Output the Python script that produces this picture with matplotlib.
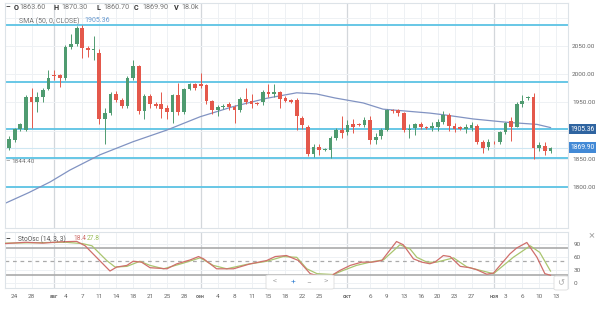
import numpy as np
import pandas as pd
import matplotlib
matplotlib.use('Agg')
import matplotlib.pyplot as plt
from matplotlib.patches import FancyBboxPatch

plt.rcParams['font.family'] = ['Roboto', 'DejaVu Sans']

# ---------------- data ----------------
all_days = pd.date_range('2020-07-23', '2020-11-13')
days = all_days[all_days.dayofweek != 5]          # daily bars incl. Sunday session

opens = [1870, 1883, 1902, 1901, 1960, 1950, 1960, 1974, 1999, 1998,
         1993, 2049, 2053, 2082, 2047, 2043, 2038, 1920, 1932, 1965,
         1955, 1944, 1994, 2014, 1934, 1962, 1948, 1947, 1940, 1933,
         1963, 1933, 1974, 1982, 1982, 1981, 1952, 1936, 1941, 1947,
         1942, 1937, 1956, 1952, 1949, 1950, 1968, 1964, 1969, 1957,
         1954, 1954, 1922, 1907, 1858, 1871, 1865, 1866, 1887, 1901,
         1897, 1911, 1912, 1910, 1919, 1884, 1891, 1901, 1936, 1936,
         1931, 1901, 1904, 1911, 1906, 1905, 1907, 1915, 1928, 1909,
         1907, 1903, 1905, 1909, 1880, 1871, 1880, 1879, 1897, 1917,
         1907, 1947, 1957, 1960, 1870, 1873, 1863.6]
highs = [1890, 1905, 1913, 1963, 1976, 1969, 1975, 2007, 2007, 2001,
         2051, 2071, 2085, 2087, 2050, 2068, 2045, 1940, 1968, 1970,
         1957, 1996, 2026, 2016, 1965, 1965, 1950, 1968, 1945, 1965,
         1984, 1976, 1984, 1985, 2002, 1983, 1955, 1946, 1947, 1950,
         1945, 1960, 1976, 1964, 1951, 1972, 1982, 1983, 1971, 1962,
         1956, 1957, 1925, 1910, 1877, 1876, 1869, 1890, 1905, 1925,
         1918, 1920, 1914, 1924, 1925, 1896, 1904, 1938, 1938, 1938,
         1933, 1912, 1914, 1916, 1908, 1916, 1921, 1934, 1932, 1914,
         1909, 1912, 1915, 1912, 1883, 1885, 1882, 1899, 1915, 1924,
         1950, 1963, 1962, 1966, 1880, 1880, 1870.3]
lows = [1865, 1880, 1900, 1899, 1904, 1933, 1951, 1972, 1990, 1978,
        1990, 2045, 2050, 2028, 2030, 2025, 1911, 1877, 1928, 1950,
        1940, 1940, 1990, 1930, 1920, 1940, 1940, 1923, 1920, 1913,
        1927, 1930, 1972, 1972, 1975, 1948, 1930, 1925, 1938, 1937,
        1913, 1933, 1948, 1940, 1945, 1945, 1960, 1960, 1940, 1950,
        1949, 1901, 1903, 1855, 1853, 1856, 1863, 1852, 1884, 1886,
        1893, 1895, 1908, 1906, 1877, 1876, 1885, 1899, 1932, 1925,
        1897, 1887, 1893, 1903, 1903, 1900, 1900, 1912, 1899, 1898,
        1901, 1896, 1900, 1876, 1861, 1866, 1877, 1876, 1894, 1882,
        1906, 1942, 1955, 1850, 1864, 1856, 1860.7]
closes = [1885, 1902, 1911, 1960, 1950, 1960, 1972, 1993, 1997, 1994,
          2049, 2053, 2082, 2047, 2042, 2045, 1920, 1932, 1965, 1955,
          1944, 1994, 2014, 1934, 1962, 1948, 1944, 1938, 1933, 1963,
          1933, 1974, 1982, 1976, 1979, 1952, 1937, 1941, 1944, 1942,
          1937, 1956, 1951, 1948, 1947, 1968, 1964, 1968, 1956, 1953,
          1951, 1925, 1910, 1858, 1871, 1866, 1867, 1887, 1901, 1895,
          1910, 1907, 1910, 1919, 1883, 1889, 1901, 1936, 1934, 1931,
          1901, 1903, 1911, 1906, 1905, 1908, 1915, 1928, 1909, 1903,
          1903, 1907, 1910, 1880, 1870, 1879, 1879, 1897, 1913, 1907,
          1947, 1953, 1960, 1870, 1875, 1863, 1869.9]

sma_x = [-0.7, 3.5, 7.3, 10.8, 16.1, 22, 28, 33.9, 39.7, 45.7, 51, 54.5,
         57.8, 62.8, 66.3, 69.9, 74.6, 77.3, 82.3, 88.3, 93.6, 96]
sma_v = [1771, 1790, 1809, 1830, 1857, 1880.3, 1901, 1924.6, 1942.4,
         1957.3, 1967, 1965, 1957.8, 1949, 1938, 1935, 1931, 1927.7,
         1920.6, 1914.7, 1911, 1905.36]

k_x = [-0.7, 3, 6, 9, 12, 13.5, 15.5, 17.9, 19.1, 20.9, 22, 23.5, 25, 28, 29.7,
       32.1, 33.6, 34.5, 36.8, 39.8, 42.7, 45.7, 47.2, 49.2, 51.3, 53.4,
       54.8, 57.2, 58.7, 60.5, 62.5, 64.3, 66.1, 68.7, 69.9, 71.7, 73.2,
       74.6, 75.5, 77, 78.2, 80, 81.7, 82.9, 84.7, 85.9, 88.8, 90, 91.8,
       93.6, 95, 96]
k_v = [90, 93, 91, 94, 95, 85, 59, 28, 37, 40.7, 50, 48, 35.5, 33, 44,
       53, 60.7, 55.5, 33, 33, 44, 51.8, 60.7, 63, 51.8, 22,
       17, 18, 29.6, 40.7, 48, 48, 51.8, 94.7, 87.3, 55.5, 48,
       44.4, 48, 63, 60.7, 38.5, 35.5, 31, 20.7, 23.5, 66.7, 80, 92.5,
       59, 22, 18.4]
d_x = [-0.7, 5, 10, 13, 14.7, 17.3, 18.8, 20.9, 23.2, 25, 27.4, 30.9, 33.9,
       36.2, 38.6, 42.1, 45.7, 48.6, 51, 52.8, 54.6, 57.5, 59.3, 61.6,
       64, 66.4, 69.3, 71.1, 72.3, 74.1, 75.8, 78.8, 81.2, 83.5, 85.9,
       89.4, 92.4, 94.1, 96]
d_v = [91, 92, 93, 90, 85, 52, 37, 38.5, 50, 40.7, 33, 45.8, 57.8,
       40.7, 33, 42.9, 50, 60.7, 59, 33, 22, 20, 29.6, 40.7,
       48, 53.3, 87.3, 77.8, 59, 48, 48, 57.8, 37, 29.6, 22,
       59, 85, 70, 27.8]

levels = [2087, 1986.5, 1902.5, 1852, 1800]
price_ticks = [1800, 1850, 1950, 2000, 2050]
last_close = 1869.90
sma_last = 1905.36
min_label = 1844.40

tick_dates = ['2020-07-24', '2020-07-28', '2020-08-02', '2020-08-04', '2020-08-07',
              '2020-08-11', '2020-08-14', '2020-08-18', '2020-08-21', '2020-08-25',
              '2020-08-28', '2020-09-01', '2020-09-04', '2020-09-08', '2020-09-11',
              '2020-09-15', '2020-09-18', '2020-09-22', '2020-09-25', '2020-10-01',
              '2020-10-06', '2020-10-09', '2020-10-13', '2020-10-16', '2020-10-20',
              '2020-10-23', '2020-10-27', '2020-11-01', '2020-11-03', '2020-11-06',
              '2020-11-10', '2020-11-13']
tick_labels = ['24', '28', 'авг', '4', '7', '11', '14', '18', '21', '25', '28',
               'сен', '4', '8', '11', '15', '18', '22', '25', 'окт', '6', '9',
               '13', '16', '20', '23', '27', 'ноя', '3', '6', '10', '13']
month_labels = {'авг', 'сен', 'окт', 'ноя'}
stoch_ticks = [0, 30, 60, 90]

# ---------------- figure ----------------
W, H = 600, 309
fig = plt.figure(figsize=(6.0, 3.09), dpi=100)
fig.patch.set_facecolor('white')

def px(x0, y0, x1, y1):
    return [x0 / W, 1 - y1 / H, (x1 - x0) / W, (y1 - y0) / H]

ax = fig.add_axes(px(5, 3, 568, 228))
ax2 = fig.add_axes(px(5, 232, 568, 288))

GREEN = '#4f9b70'
RED = '#e4584b'
CYAN = '#5cc3e4'
GRID = '#eef1f4'
MONTH = '#d3d7db'
SPINE = '#dde3e8'

tick_idx = [days.get_loc(pd.Timestamp(d)) for d in tick_dates]

for a in (ax, ax2):
    a.set_facecolor('white')
    a.set_xlim(-0.71, 99.1)
    for s in a.spines.values():
        s.set_color(SPINE)
        s.set_linewidth(0.8)
    for ti, tl in zip(tick_idx, tick_labels):
        a.axvline(ti, color=MONTH if tl in month_labels else GRID,
                  lw=0.9 if tl in month_labels else 0.7, zorder=0)

ax.set_ylim(1727.3, 2126.2)
for p in [1800, 1850, 1900, 1950, 2000, 2050, 2100]:
    ax.axhline(p, color=GRID, lw=0.7, zorder=0)

for lv in levels:
    ax.axhline(lv, color=CYAN, lw=1.3, zorder=1)
ax.axhline(last_close, color='#cfe7f2', lw=0.8, zorder=1)

# candles
idx = np.arange(len(opens))
o = np.array(opens); h = np.array(highs); l = np.array(lows); c = np.array(closes)
cols = [GREEN if cc >= oo else RED for oo, cc in zip(o, c)]
ax.vlines(idx, l, h, colors=cols, lw=0.7, zorder=3)
body = np.maximum(np.abs(c - o), 1.2)
ax.bar(idx, body, bottom=np.minimum(o, c), width=0.66, color=cols, zorder=4,
       linewidth=0)

ax.plot(sma_x, sma_v, color='#8193c2', lw=0.9, zorder=2)

ax.set_xticks([])
ax.yaxis.tick_right()
ax.set_yticks(price_ticks)
ax.set_yticklabels([f'{p:.2f}' for p in price_ticks])
ax.tick_params(axis='y', length=0, pad=3, labelsize=4.6, labelcolor='#666666')

# price badges
def badge(y_val, txt, col):
    ax.text(1.004, y_val, txt, transform=ax.get_yaxis_transform(), fontsize=4.9,
            color='white', va='center', ha='left', zorder=10,
            bbox=dict(boxstyle='square,pad=0.25', fc=col, ec='none'))
badge(sma_last - 3, f'{sma_last:.2f}', '#2f64a0')
badge(last_close, f'{last_close:.2f}', '#4289d6')

ax.text(0.0, min_label, '–', transform=ax.get_yaxis_transform(), fontsize=5,
        color='#777777', va='center', ha='left')
ax.text(0.012, min_label, f'{min_label:.2f}', transform=ax.get_yaxis_transform(),
        fontsize=4.6, color='#777777', va='center', ha='left')

# stochastic
ax2.set_ylim(-10.4, 116.2)
for v in stoch_ticks:
    ax2.axhline(v, color=GRID, lw=0.7, zorder=0)
ax2.axhline(80, color='#aaaaaa', lw=1.2, zorder=1)
ax2.axhline(20, color='#aaaaaa', lw=1.2, zorder=1)
ax2.axhline(50, color='#aaaaaa', lw=0.9, ls=(0, (3, 3)), zorder=1)
ax2.plot(d_x, d_v, color='#aac56f', lw=0.9, zorder=3)
ax2.plot(k_x, k_v, color='#cf6f6b', lw=0.9, zorder=4)
ax2.yaxis.tick_right()
ax2.set_yticks(stoch_ticks)
ax2.set_yticklabels([str(v) for v in stoch_ticks])
ax2.tick_params(axis='y', length=0, pad=4, labelsize=4.6, labelcolor='#666666')
ax2.set_xticks(tick_idx)
ax2.set_xticklabels(tick_labels)
ax2.tick_params(axis='x', length=0, pad=4, labelsize=4.6, labelcolor='#666666')
for lab in ax2.get_xticklabels():
    if lab.get_text() in month_labels:
        lab.set_fontsize(4.0)
        lab.set_fontweight('bold')
        lab.set_color('#777777')

# header texts
def ftxt(x, y, s, **kw):
    return fig.text(x / W, 1 - y / H, s, va='center', ha='left', **kw)

hdr = [('O', 14, True, '#333333'), ('1863.60', 19.5, False, '#777777'),
       ('H', 54, True, '#333333'), ('1870.30', 61, False, '#777777'),
       ('L', 97, True, '#333333'), ('1860.70', 103, False, '#777777'),
       ('C', 134, True, '#333333'), ('1869.90', 142, False, '#777777'),
       ('V', 174, True, '#333333'), ('18.0k', 181, False, '#777777')]
ftxt(5, 7.5, '–', fontsize=5.3, fontweight='bold', color='#333333')
for s, x, b, col in hdr:
    ftxt(x, 7.5, s, fontsize=5.2, fontweight='bold' if b else 'normal', color=col)
ftxt(19, 21, 'SMA (50, 0, CLOSE)', fontsize=5.0, color='#777777')
ftxt(84, 21, f'{sma_last:.2f}', fontsize=5.0, color='#6a9bd0')

ftxt(5, 239, '–', fontsize=5.3, fontweight='bold', color='#333333')
ftxt(18, 239, 'StoOsc (14, 3, 3)', fontsize=4.8, color='#555555')
ftxt(73, 239, f'{k_v[-1]:.1f}', fontsize=4.8, color='#cf6f6b')
ftxt(87, 239, f'{d_v[-1]:.1f}', fontsize=4.8, color='#9cbf5c')

# UI controls
box = FancyBboxPatch((266 / W, 1 - 289 / H), 68 / W, 14 / H,
                     boxstyle='round,pad=0,rounding_size=0.004',
                     transform=fig.transFigure, fc='white', ec='#dddddd', lw=0.6, zorder=20)
fig.add_artist(box)
for s, x, col in [('<', 275, '#aaaaaa'), ('+', 293, '#3d86d4'),
                  ('−', 309, '#aaaaaa'), ('>', 326, '#aaaaaa')]:
    fig.text(x / W, 1 - 282 / H, s, ha='center', va='center', fontsize=6,
             color=col, zorder=21)
box2 = FancyBboxPatch((554 / W, 1 - 290 / H), 14 / W, 14 / H,
                      boxstyle='round,pad=0,rounding_size=0.004',
                      transform=fig.transFigure, fc='white', ec='#dddddd', lw=0.6, zorder=20)
fig.add_artist(box2)
fig.text(561 / W, 1 - 283 / H, '↺', ha='center', va='center', fontsize=6,
         color='#aaaaaa', zorder=21, family=['DejaVu Sans'])
fig.text(592 / W, 1 - 235 / H, '×', ha='center', va='center', fontsize=8,
         color='#aaaaaa')

fig.savefig('out.png', dpi=100)
